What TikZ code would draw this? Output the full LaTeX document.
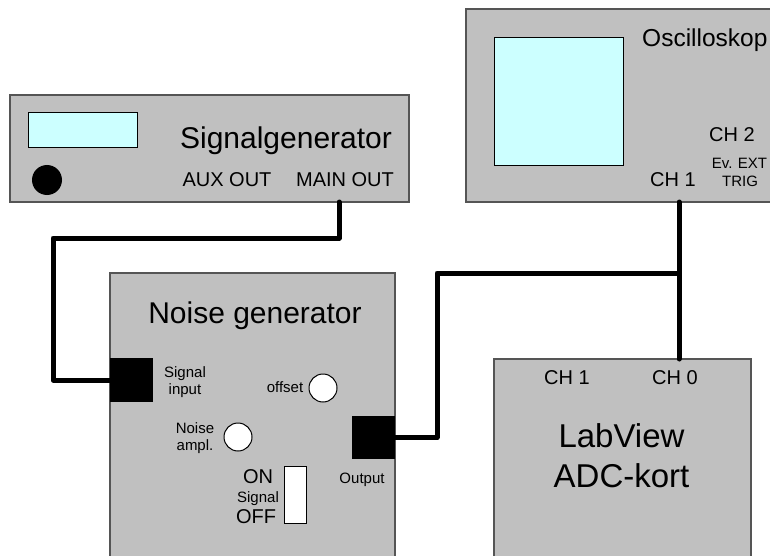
\documentclass[tikz,border=0pt]{standalone}
\usepackage{fontspec}
\setmainfont{Liberation Sans}
\definecolor{boxgray}{HTML}{C0C0C0}
\definecolor{screen}{HTML}{CCFFFF}
\definecolor{edge}{HTML}{555555}
\begin{document}
\begin{tikzpicture}[x=1pt,y=-1pt,
  device/.style={draw=edge,line width=1.2pt,fill=boxgray,inner sep=0pt,rectangle},
  scr/.style={draw=black,line width=1pt,fill=screen,inner sep=0pt,rectangle},
  jack/.style={fill=black,inner sep=0pt,rectangle},
  knob/.style={draw=black,line width=1pt,fill=white,circle,inner sep=0pt,minimum size=28pt},
  cable/.style={line width=5pt,line join=round,line cap=round},
  lbl/.style={inner sep=0pt,anchor=base},
  big/.style={lbl,font=\fontsize{30}{30}\selectfont},
  mid/.style={lbl,font=\fontsize{20}{20}\selectfont},
  sml/.style={lbl,font=\fontsize{15}{15}\selectfont}]
\clip (0,0) rectangle (770,556);
\fill[white] (0,0) rectangle (770,556);

% Signalgenerator
\node[device,minimum width=399pt,minimum height=107pt] (sg) at (209.5,148.5) {};
\node[scr,minimum width=109pt,minimum height=35pt] (sgscreen) at (82.5,130.5) {};
\node[fill=black,circle,inner sep=0pt,minimum size=30pt] (sgknob) at (47,180) {};
\node[big] (sgtitle) at (286,149) {Signalgenerator};
\node[mid] (auxout) at (227,186) {AUX OUT};
\node[mid] (mainoutlbl) at (345,186) {MAIN OUT};

% Oscilloskop
\node[device,minimum width=334pt,minimum height=193pt] (osc) at (633,105.5) {};
\node[scr,minimum width=129pt,minimum height=128pt] (oscscreen) at (558.5,102) {};
\node[lbl,anchor=base west,font=\fontsize{24.5}{24.5}\selectfont] (osctitle) at (642,47) {Oscilloskop};
\node[mid] (och2) at (732,142) {CH 2};
\node[sml] (oev) at (739.5,168) {Ev. EXT};
\node[sml] (otrig) at (740,186) {TRIG};
\node[mid] (och1) at (673,186) {CH 1};

% Noise generator
\node[device,minimum width=285pt,minimum height=327pt] (ng) at (252.5,436.5) {};
\node[big] (ngtitle) at (255,323) {Noise generator};
\node[jack,minimum width=43pt,minimum height=44pt] (sin) at (131.5,380) {};
\node[sml] (sinl1) at (185,377) {Signal};
\node[sml] (sinl2) at (185,394) {input};
\node[knob] (offknob) at (323,388) {};
\node[sml] (offl) at (285,392) {offset};
\node[knob] (ampknob) at (238,437) {};
\node[sml] (ampl1) at (195,433) {Noise};
\node[sml] (ampl2) at (195,450) {ampl.};
\node[jack,minimum width=43pt,minimum height=43pt] (out) at (373.5,437.5) {};
\node[sml] (outl) at (362,483) {Output};
\node[draw=black,line width=1pt,fill=white,inner sep=0pt,minimum width=22pt,minimum height=57pt] (switch) at (295,494.5) {};
\node[mid] (onl) at (258,483) {ON};
\node[sml] (swl) at (258,502) {Signal};
\node[mid] (offl2) at (256,523) {OFF};

% LabView
\node[device,minimum width=257pt,minimum height=241pt] (lv) at (622.5,479.5) {};
\node[mid] (lch1) at (567,384) {CH 1};
\node[mid] (lch0) at (675,384) {CH 0};
\node[lbl,font=\fontsize{33}{33}\selectfont] (lvt1) at (621.5,447) {LabView};
\node[lbl,font=\fontsize{33}{33}\selectfont] (lvt2) at (621.5,487) {ADC-kort};

% cables
\coordinate (mainout) at (339,202);
\coordinate (c1) at (53,238);
\coordinate (c2) at (437,273);
\coordinate (junc) at (679,273);
\coordinate (oscch1) at (679,202);
\coordinate (lvch0) at (679,359);
\draw[cable] (mainout) |- (c1) |- (sin.west);
\draw[cable] (out.east) -| (c2) -- (junc);
\draw[cable] (oscch1) -- (lvch0);
\end{tikzpicture}
\end{document}
